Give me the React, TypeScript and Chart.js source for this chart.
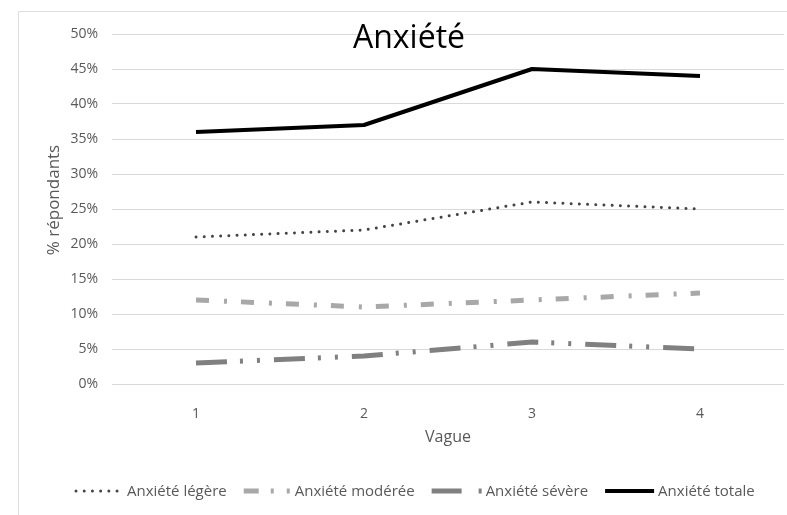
import React, { useEffect, useRef } from "react";
import { Chart, registerables } from "chart.js";

Chart.register(...registerables);

// ---- Data ----
const categories = ["1", "2", "3", "4"];
const seriesNames = ["Anxiété légère", "Anxiété modérée", "Anxiété sévère", "Anxiété totale"];
const legere = [21, 22, 26, 25];
const moderee = [12, 11, 12, 13];
const severe = [3, 4, 6, 5];
const totale = [36, 37, 45, 44];
const yMin = 0;
const yMax = 50;
const yStep = 5;
const chartTitle = "Anxiété";
const xAxisTitle = "Vague";
const yAxisTitle = "% répondants";

const FONT = "'Open Sans', 'Liberation Sans', sans-serif";
const TEXT_GRAY = "#595959";

const lineStyles = [
  { color: "#454545", width: 3, dash: [0.01, 8.2], cap: "round" as CanvasLineCap, sampleDash: [0.01, 8.2], sampleLen: 47 },
  { color: "#a8a8a8", width: 5, dash: [13, 15, 3, 14], cap: "butt" as CanvasLineCap, sampleDash: [15, 12, 3, 13, 3, 100], sampleLen: 47 },
  { color: "#808080", width: 5, dash: [31, 13, 3, 14, 3, 14], cap: "butt" as CanvasLineCap, sampleDash: [30, 17, 3, 100], sampleLen: 50 },
  { color: "#000000", width: 4, dash: [] as number[], cap: "butt" as CanvasLineCap, sampleDash: [] as number[], sampleLen: 49 },
];

const decorPlugin = {
  id: "decor",
  beforeDraw(chart: any) {
    const ctx = chart.ctx as CanvasRenderingContext2D;
    ctx.save();
    ctx.fillStyle = "#ffffff";
    ctx.fillRect(0, 0, chart.width, chart.height);
    ctx.strokeStyle = "#dedede";
    ctx.lineWidth = 1;
    ctx.beginPath();
    ctx.moveTo(18.5, chart.height + 2);
    ctx.lineTo(18.5, 11.5);
    ctx.lineTo(chart.width + 2, 11.5);
    ctx.stroke();
    ctx.restore();
  },
  afterDraw(chart: any) {
    const ctx = chart.ctx as CanvasRenderingContext2D;
    ctx.save();
    // Title (overlapping plot area as in the reference)
    ctx.fillStyle = "#000000";
    ctx.font = `32px ${FONT}`;
    ctx.textAlign = "center";
    ctx.textBaseline = "alphabetic";
    ctx.fillText(chartTitle, 409, 48);

    // Y axis title
    ctx.save();
    ctx.translate(54, 200);
    ctx.rotate(-Math.PI / 2);
    ctx.fillStyle = TEXT_GRAY;
    ctx.font = `17px ${FONT}`;
    ctx.textAlign = "center";
    ctx.textBaseline = "middle";
    ctx.fillText(yAxisTitle, 0, 0);
    ctx.restore();

    // Legend
    ctx.font = `15px ${FONT}`;
    ctx.textAlign = "left";
    ctx.textBaseline = "middle";
    let x = 76;
    const y = 491;
    chart.data.datasets.forEach((ds: any, i: number) => {
      const st = lineStyles[i];
      ctx.save();
      ctx.strokeStyle = st.color;
      ctx.lineWidth = st.width;
      ctx.lineCap = st.cap;
      ctx.setLineDash(st.sampleDash);
      ctx.beginPath();
      ctx.moveTo(x, y);
      ctx.lineTo(x + st.sampleLen, y);
      ctx.stroke();
      ctx.restore();
      x += st.sampleLen + 4;
      ctx.fillStyle = TEXT_GRAY;
      ctx.fillText(ds.label, x, y + 1);
      x += ctx.measureText(ds.label).width + 17;
    });
    ctx.restore();
  },
};

export default function App() {
  const canvasRef = useRef<HTMLCanvasElement | null>(null);

  useEffect(() => {
    document.body.style.margin = "0";
    const canvas = canvasRef.current;
    if (!canvas) return;
    const seriesValues = [legere, moderee, severe, totale];
    const chart = new Chart(canvas, {
      type: "line",
      data: {
        labels: categories,
        datasets: seriesValues.map((vals, i) => ({
          label: seriesNames[i],
          data: vals,
          borderColor: lineStyles[i].color,
          backgroundColor: lineStyles[i].color,
          borderWidth: lineStyles[i].width,
          borderDash: lineStyles[i].dash,
          borderCapStyle: lineStyles[i].cap,
          borderJoinStyle: "round",
          pointRadius: 0,
          pointHoverRadius: 0,
          tension: 0,
          fill: false,
        })),
      },
      options: {
        responsive: false,
        animation: false,
        devicePixelRatio: 1,
        layout: { padding: { left: 0, right: 3, top: 34, bottom: 0 } },
        plugins: {
          legend: { display: false },
          title: { display: false },
          tooltip: { enabled: false },
        },
        scales: {
          x: {
            type: "category",
            offset: true,
            grid: { display: false },
            border: { display: false },
            ticks: {
              font: { family: FONT, size: 14 },
              color: TEXT_GRAY,
              padding: 14,
              maxRotation: 0,
            },
            title: {
              display: true,
              text: xAxisTitle,
              font: { family: FONT, size: 16 },
              color: TEXT_GRAY,
              padding: { top: 0, bottom: 68 },
            },
            afterFit: (s: any) => {
              s.height = 131;
            },
          },
          y: {
            min: yMin,
            max: yMax,
            ticks: {
              stepSize: yStep,
              callback: (v: any) => `${v}%`,
              font: { family: FONT, size: 14 },
              color: TEXT_GRAY,
              padding: 14,
            },
            grid: { color: "#d9d9d9", lineWidth: 1, drawTicks: false },
            border: { display: false },
            afterFit: (s: any) => {
              s.width = 112;
            },
          },
        },
      } as any,
      plugins: [decorPlugin],
    });
    return () => chart.destroy();
  }, []);

  return (
    <div style={{ position: "fixed", left: 0, top: 0, width: 787, height: 515, background: "#fff" }}>
      <canvas ref={canvasRef} width={787} height={515} style={{ display: "block" }} />
    </div>
  );
}
